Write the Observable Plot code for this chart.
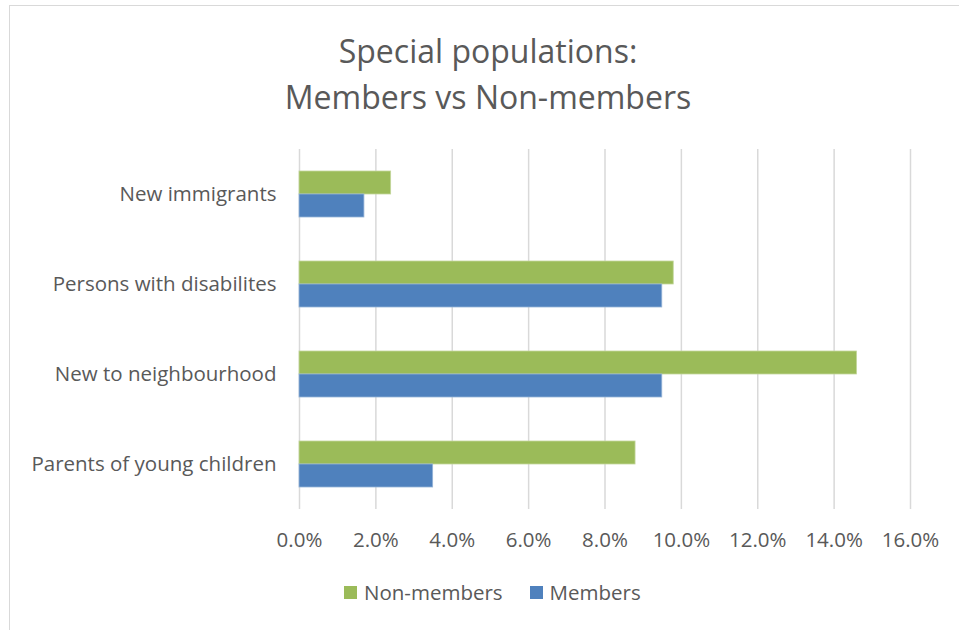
<!DOCTYPE html>
<html>
<head>
<meta charset="utf-8">
<script src="https://cdn.jsdelivr.net/npm/d3@7"></script>
<script src="https://cdn.jsdelivr.net/npm/@observablehq/plot@0.6"></script>
<style>
  html, body { margin: 0; padding: 0; background: #fff; }
  #wrap { position: relative; width: 959px; height: 630px; overflow: hidden; font-family: "Open Sans", sans-serif; color: #595959; }
  #frame { position: absolute; left: 9px; top: 5px; width: 980px; height: 700px; border: 1px solid #d9d9d9; box-sizing: border-box; }
  #title { position: absolute; left: 0; width: 976px; top: 28px; text-align: center; font-size: 32px; line-height: 46px; color: #595959; }
  #chart { position: absolute; left: 0; top: 0; }
  #legend { position: absolute; top: 578px; left: 344px; font-size: 20.5px; display: flex; align-items: center; }
  .sw { display: inline-block; width: 13px; height: 13px; margin-right: 7px; }
  .item { display: flex; align-items: center; margin-right: 27px; }
</style>
</head>
<body>
<div id="wrap">
  <div id="frame"></div>
  <div id="chart"></div>
  <div id="title">Special populations:<br>Members vs Non-members</div>
  <div id="legend"></div>
</div>
<script>
const categories = ["New immigrants", "Persons with disabilites", "New to neighbourhood", "Parents of young children"];
const series = ["Non-members", "Members"];
const nonMembers = [2.4, 9.8, 14.6, 8.8];
const members = [1.7, 9.5, 9.5, 3.5];
const colors = ["#9bbb59", "#4f81bd"];
const xTicks = [0, 2, 4, 6, 8, 10, 12, 14, 16];

const data = [];
categories.forEach((c, i) => {
  data.push({category: c, series: series[0], value: nonMembers[i]});
  data.push({category: c, series: series[1], value: members[i]});
});

const chart = Plot.plot({
  width: 959,
  height: 630,
  marginLeft: 299,
  marginRight: 49,
  marginTop: 148,
  marginBottom: 120,
  style: {fontFamily: "Open Sans, sans-serif", fontSize: "21px", color: "#595959", background: "transparent"},
  x: {domain: [0, 16], ticks: xTicks, tickFormat: d => d.toFixed(1) + "%", label: null, tickSize: 0, tickPadding: 20},
  fy: {domain: categories, padding: 0, label: null},
  y: {domain: series, paddingInner: 0, paddingOuter: 0.93, axis: null},
  color: {domain: series, range: colors},
  marks: [
    Plot.gridX(xTicks, {stroke: "#d9d9d9", strokeOpacity: 1, strokeWidth: 1.5}),
    Plot.barX(data, {fy: "category", y: "series", x: "value", fill: "series", stroke: d => d.series === "Members" ? "#95b3d7" : "#c3d69b", strokeWidth: 0.8}),
    Plot.axisX({ticks: xTicks, tickFormat: d => d.toFixed(1) + "%", tickSize: 0, tickPadding: 23, label: null, fontSize: 20.5, facetAnchor: "bottom"}),
    Plot.axisFy({anchor: "left", tickSize: 0, tickPadding: 23, label: null, fontSize: 20.5})
  ]
});
document.getElementById("chart").appendChild(chart);

const legend = document.getElementById("legend");
series.forEach((s, i) => {
  const item = document.createElement("div");
  item.className = "item";
  const sw = document.createElement("span");
  sw.className = "sw";
  sw.style.background = colors[i];
  item.appendChild(sw);
  item.appendChild(document.createTextNode(s));
  legend.appendChild(item);
});
</script>
</body>
</html>
